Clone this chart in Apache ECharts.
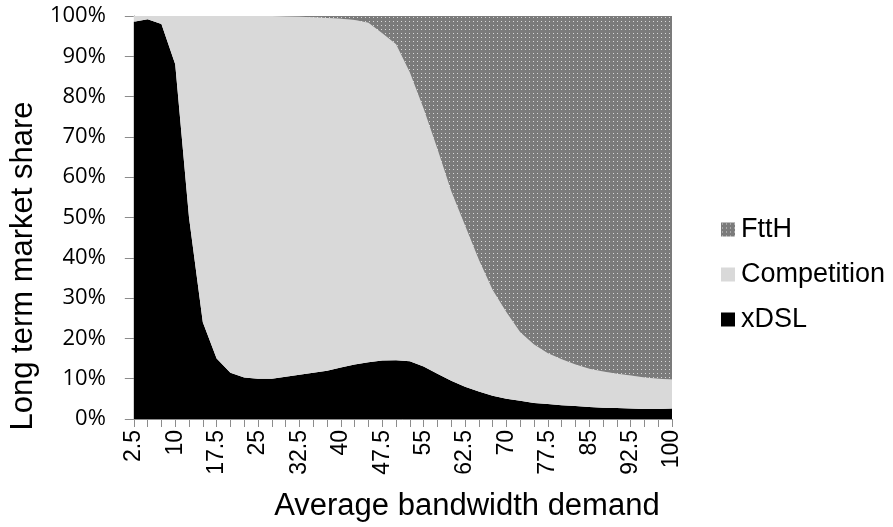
<!DOCTYPE html>
<html>
<head>
<meta charset="utf-8">
<script src="https://cdn.jsdelivr.net/npm/echarts@6/dist/echarts.min.js"></script>
<style>html,body{margin:0;padding:0;background:#fff}#c{width:893px;height:527px}</style>
</head>
<body>
<div id="c"></div>
<script>
const categories = ['2.5','5','7.5','10','12.5','15','17.5','20','22.5','25','27.5','30','32.5','35','37.5','40','42.5','45','47.5','50','52.5','55','57.5','60','62.5','65','67.5','70','72.5','75','77.5','80','82.5','85','87.5','90','92.5','95','97.5','100'];
const xDSL = [98.6,99.2,98,88,50,24,15,11.5,10.3,10,10,10.5,11,11.5,12,12.8,13.5,14.1,14.5,14.6,14.3,13,11.2,9.5,8,6.8,5.8,5,4.5,4,3.7,3.4,3.2,3,2.8,2.7,2.6,2.5,2.5,2.6];
const competitionTop = [100,100,100,100,100,100,100,100,100,100,100,99.9,99.8,99.7,99.5,99.3,99,98.3,95.7,93,86,77,67,56.5,48,39.5,32,26.5,21.5,18.5,16.3,14.8,13.5,12.5,11.8,11.2,10.8,10.3,10,9.8];
const competition = competitionTop.map((t, i) => +(t - xDSL[i]).toFixed(2));
const ftth = competitionTop.map(t => +(100 - t).toFixed(2));
const yTicks = [0,10,20,30,40,50,60,70,80,90,100];

// dotted pattern for FttH
const pc = document.createElement('canvas');
pc.width = 4; pc.height = 4;
const pctx = pc.getContext('2d');
pctx.fillStyle = '#7b7b7b';
pctx.fillRect(0, 0, 4, 4);
pctx.fillStyle = '#d8d8d8';
pctx.fillRect(1, 1, 1, 1);

const chart = echarts.init(document.getElementById('c'), null, {renderer: 'canvas'});
const base = {type: 'line', stack: 'total', symbol: 'none', smooth: false, lineStyle: {width: 0}};
chart.setOption({
  animation: false,
  grid: {left: 130, right: 221, top: 16, bottom: 108},
  legend: {
    orient: 'vertical', left: 716, top: 211, itemGap: 18, itemWidth: 14, itemHeight: 14,
    textStyle: {fontFamily: 'Liberation Sans', fontSize: 27, color: '#000', padding: [0, 0, 0, 1]},
    data: [
      {name: 'FttH', icon: 'rect'},
      {name: 'Competition', icon: 'rect'},
      {name: 'xDSL', icon: 'rect'}
    ]
  },
  xAxis: {
    type: 'category', data: categories, boundaryGap: false,
    name: 'Average bandwidth demand', nameLocation: 'middle', nameGap: 72,
    nameTextStyle: {fontFamily: 'Liberation Sans', fontSize: 31, color: '#000', padding: [0, 0, 0, 128]},
    axisLine: {lineStyle: {color: '#8c8c8c', width: 1}},
    axisTick: {show: true, interval: 0, length: 8, lineStyle: {color: '#8c8c8c'}},
    axisLabel: {interval: 2, rotate: 90, margin: 11, fontFamily: 'Liberation Sans', fontSize: 23, color: '#000'},
    splitLine: {show: false}
  },
  yAxis: {
    type: 'value', min: 0, max: 100, interval: 10,
    name: 'Long term market share', nameLocation: 'middle', nameGap: 86,
    nameTextStyle: {fontFamily: 'Liberation Sans', fontSize: 31, color: '#000', padding: [0, 97, 0, 0]},
    axisLine: {show: true, lineStyle: {color: '#8c8c8c', width: 1}},
    axisTick: {show: true, length: 9, lineStyle: {color: '#8c8c8c'}},
    axisLabel: {margin: 28, fontFamily: 'Open Sans', fontSize: 22, color: '#000',
      formatter: v => (yTicks.includes(v) ? v + '%' : '')},
    splitLine: {show: false}
  },
  series: [
    Object.assign({}, base, {name: 'xDSL', data: xDSL, itemStyle: {color: '#000'}, areaStyle: {color: '#000', opacity: 1}}),
    Object.assign({}, base, {name: 'Competition', data: competition, itemStyle: {color: '#d9d9d9'}, areaStyle: {color: '#d9d9d9', opacity: 1}}),
    Object.assign({}, base, {name: 'FttH', data: ftth, itemStyle: {color: {image: pc, repeat: 'repeat'}}, areaStyle: {color: {image: pc, repeat: 'repeat'}, opacity: 1}})
  ]
});
</script>
</body>
</html>
